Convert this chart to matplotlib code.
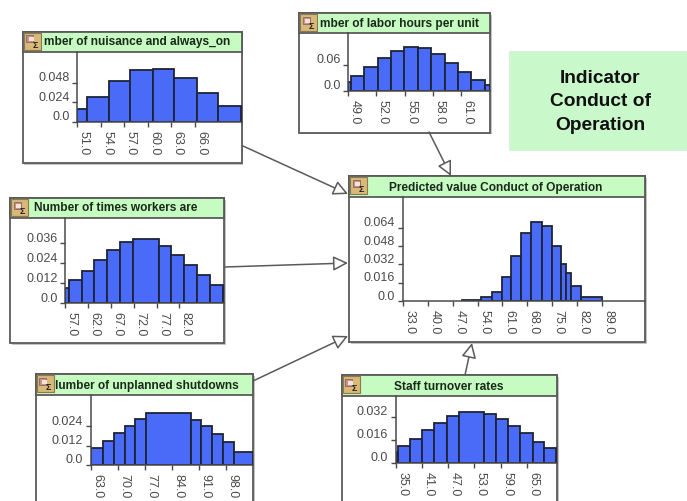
import numpy as np
import matplotlib
matplotlib.use("Agg")
import matplotlib.pyplot as plt
from matplotlib.patches import Rectangle, FancyArrowPatch
from matplotlib.transforms import Affine2D

plt.rcParams['font.family'] = ['Liberation Sans', 'DejaVu Sans']
W, H = 687, 502

# ---------- data ----------
nuis_title = "mber of nuisance and always_on"
nuis_edges = [51.0, 52.2, 55.0, 57.8, 60.66, 63.4, 66.26, 69.03, 71.9]
nuis_vals = [.0156, .0304, .0496, .0632, .0644, .0533, .0357, .0189]
nuis_xt = [51.0, 54.0, 57.0, 60.0, 63.0, 66.0]
nuis_yt = [0.0, 0.024, 0.048]

labor_title = "mber of labor hours per unit"
labor_edges = [49.0, 49.28, 50.67, 52.12, 53.51, 54.93, 56.38, 57.77, 59.26, 60.68, 62.1, 63.52, 64.1]
labor_vals = [.02, .0346, .0538, .0754, .0915, .1008, .0985, .0846, .0631, .0423, .0254, .0138]
labor_xt = [49.0, 52.0, 55.0, 58.0, 61.0]
labor_yt = [0.0, 0.06]

times_title = "Number of times workers are"
times_edges = [57.0, 57.88, 60.58, 63.36, 66.14, 69.06, 71.91, 77.54, 80.24, 83.09, 85.87, 88.72, 91.57, 92.09]
times_vals = [.0088, .0137, .0193, .0259, .032, .037, .0388, .0344, .0287, .0227, .0167, .0109, .007]
times_xt = [57.0, 62.0, 67.0, 72.0, 77.0, 82.0]
times_yt = [0.0, 0.012, 0.024, 0.036]

pred_title = "Predicted value Conduct of Operation"
pred_edges = [49.5, 54.95, 57.95, 60.77, 63.39, 66.2, 69.12, 72.02, 74.84, 77.46, 78.87, 80.28, 83.09, 88.91]
pred_vals = [.0009, .0038, .0081, .0207, .0393, .059, .0687, .0652, .048, .0323, .0241, .0134, .0035]
pred_xt = [33.0, 40.0, 47.0, 54.0, 61.0, 68.0, 75.0, 82.0, 89.0]
pred_yt = [0.0, 0.016, 0.032, 0.048, 0.064]

shut_title = "lumber of unplanned shutdowns"
shut_edges = [63.0, 66.1, 69.03, 71.88, 74.55, 77.4, 88.86, 91.53, 94.38, 97.31, 100.16, 105.0]
shut_vals = [.0106, .0151, .0197, .0242, .0286, .0323, .0279, .0242, .019, .0145, .0083]
shut_xt = [63.0, 70.0, 77.0, 84.0, 91.0, 98.0]
shut_yt = [0.0, 0.012, 0.024]

staff_title = "Staff turnover rates"
staff_edges = [35.0, 35.53, 38.28, 41.03, 43.85, 46.68, 49.5, 55.15, 57.9, 60.73, 63.55, 66.3, 68.97, 71.72]
staff_vals = [.0079, .0121, .0169, .0227, .0278, .0327, .0355, .0341, .0306, .0257, .0206, .0148, .0107]
staff_xt = [35.0, 41.0, 47.0, 53.0, 59.0, 65.0]
staff_yt = [0.0, 0.016, 0.032]

side_note = "Indicator\nConduct of\nOperation"

# ---------- style ----------
BAR = '#4A6BF8'
HEAD = '#C6FBC2'
EDGE = '#5A5A5A'
TXT = '#4A4A4A'

fig = plt.figure(figsize=(W / 100, H / 100), dpi=100, facecolor='white')
canvas = fig.add_axes([0, 0, 1, 1], zorder=0)
canvas.set_xlim(0, W)
canvas.set_ylim(H, 0)
canvas.axis('off')


def panel(box, head_bottom, axis_x, base_y, xlim, ylim, edges, vals, xt, yt,
          title, tx, ty, ha='center'):
    x0, y0, x1, y1 = box
    canvas.add_patch(Rectangle((x0 + 1.5, y0 + 1.5), x1 - x0, y1 - y0, fc='#C4C4C4', ec='none', zorder=1))
    canvas.add_patch(Rectangle((x0, y0), x1 - x0, y1 - y0, fc='white', ec=EDGE, lw=1.3, zorder=2))
    canvas.add_patch(Rectangle((x0, y0), x1 - x0, head_bottom - y0, fc=HEAD, ec=EDGE, lw=1.3, zorder=3))
    canvas.text(tx, ty, title, ha=ha, va='center', fontsize=8.6, fontweight='bold',
                color='#1A2A1A', zorder=4)
    # icon
    canvas.add_patch(Rectangle((x0 + 1, y0 + 1), 17, 17, fc='#D9B878', ec='#8A7A50', lw=0.8, zorder=5))
    canvas.add_patch(Rectangle((x0 + 3.5, y0 + 3.5), 7, 7, fc='#C98E8E', ec='#7A5A5A', lw=0.5, zorder=6))
    canvas.add_patch(Rectangle((x0 + 6, y0 + 5.5), 5, 4, fc='#F3E4D8', ec='none', zorder=6))
    canvas.text(x0 + 12.5, y0 + 12.5, "Σ", ha='center', va='center', fontsize=6.5, fontweight='bold',
                color='#222222', zorder=7)

    ax = fig.add_axes([axis_x / W, 1 - base_y / H, (x1 - axis_x) / W, (base_y - head_bottom) / H], zorder=2)
    ax.patch.set_alpha(0)
    e = np.array(edges)
    ax.bar(e[:-1], vals, width=np.diff(e), align='edge', color=BAR, edgecolor='#1E2436', linewidth=1.3)
    ax.set_xlim(*xlim)
    ax.set_ylim(*ylim)
    for s in ('top', 'right'):
        ax.spines[s].set_visible(False)
    for s in ('left', 'bottom'):
        ax.spines[s].set_color('#4A4A4A')
        ax.spines[s].set_linewidth(1.1)
    ax.set_xticks(xt)
    ax.set_xticklabels([f"{v:.1f}" for v in xt], rotation=270, ha='center', va='top',
                       fontsize=9, color=TXT)
    ax.set_yticks(yt)
    ax.set_yticklabels([f"{v:g}" if v else "0.0" for v in yt], fontsize=9, color=TXT)
    ax.tick_params(axis='both', length=3.3, width=1, color='#4A4A4A', pad=2.4)
    for lab in ax.get_xticklabels():
        lab.set_transform(lab.get_transform() + Affine2D().translate(6.5, 0))
    for lab in ax.get_yticklabels():
        lab.set_transform(lab.get_transform() + Affine2D().translate(0, 7))
    return ax


panel((22.7, 32.7, 241.5, 164), 52.7, 77.3, 122.7, (51, 72), (0, .0862),
      nuis_edges, nuis_vals, nuis_xt, nuis_yt, nuis_title, 137.5, 42.3)
panel((299, 14, 490, 133.7), 34, 348.3, 91.7, (49, 64.09), (0, .1332),
      labor_edges, labor_vals, labor_xt, labor_yt, labor_title, 399.7, 23.7)
panel((10, 199, 224, 344), 219.3, 65.3, 304, (57, 91.8), (0, .0511),
      times_edges, times_vals, times_xt, times_yt, times_title, 115.3, 208.3)
panel((349, 177.3, 645.3, 343.3), 198, 403, 302, (33, 101.2), (0, .0908),
      pred_edges, pred_vals, pred_xt, pred_yt, pred_title, 496, 187.7)
panel((35.7, 375.3, 253, 515), 395.7, 90.7, 466, (63, 105), (0, .0436),
      shut_edges, shut_vals, shut_xt, shut_yt, shut_title, 239, 385.7, ha='right')
panel((341.7, 376.3, 557, 515), 397, 395.7, 464, (35, 71.9), (0, .0466),
      staff_edges, staff_vals, staff_xt, staff_yt, staff_title, 449, 387)

# arrows between nodes (open triangular heads)
links = [((243, 147), (348, 195)), ((225, 268), (348, 264)), ((253, 382), (348, 337)),
         ((429, 133), (451, 177)), ((465, 376), (472, 344))]
for a, b in links:
    canvas.add_patch(FancyArrowPatch(a, b, arrowstyle='-|>,head_length=9,head_width=4.5', mutation_scale=1,
                                     fc='white', ec='#5A5A5A', lw=1.1, shrinkA=0, shrinkB=0, zorder=8))

# note box
canvas.add_patch(Rectangle((509, 52), 178, 99, fc='#C9F8CB', ec='#DDEEDD', lw=0.8, zorder=1))
canvas.text(600, 102, side_note, ha='center', va='center', fontsize=13.8, fontweight='bold',
            color='#111111', linespacing=1.47, zorder=2)

fig.savefig("out.png", dpi=100, facecolor='white')
